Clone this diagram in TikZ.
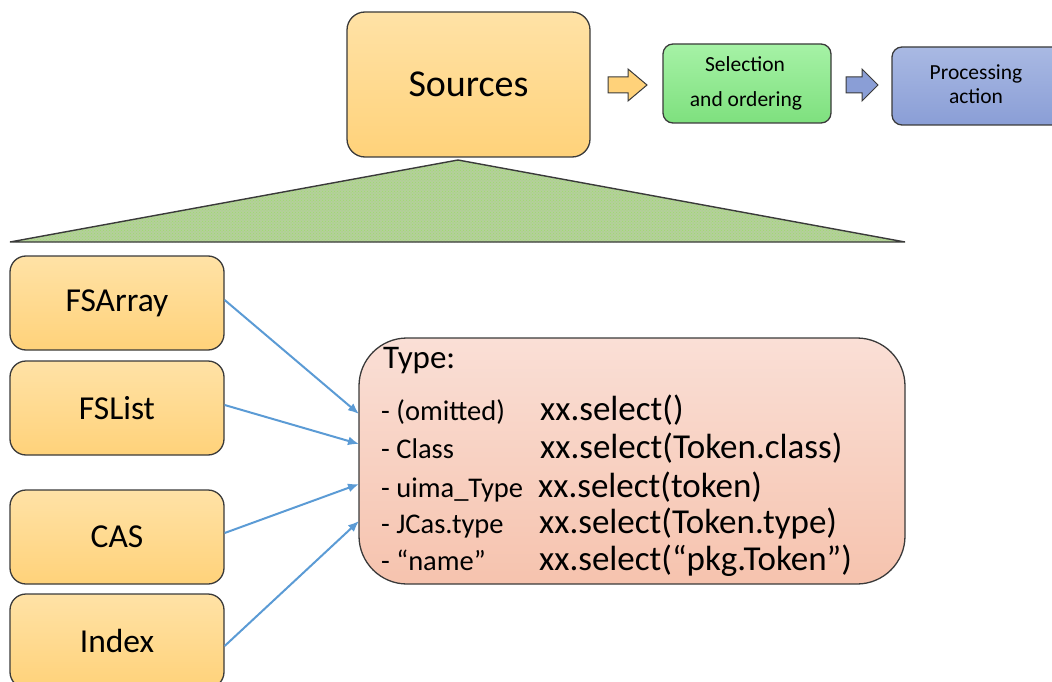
\documentclass[tikz,border=0pt]{standalone}
\usepackage{fontspec}
\setmainfont{Carlito}
\usetikzlibrary{patterns,arrows.meta}
\definecolor{edge}{HTML}{3A3A3A}
\definecolor{orT}{HTML}{FFE2A6}
\definecolor{orB}{HTML}{FFD27A}
\definecolor{grT}{HTML}{A6F2A6}
\definecolor{grB}{HTML}{7EE07E}
\definecolor{blT}{HTML}{A9B9E3}
\definecolor{blB}{HTML}{8A9ED6}
\definecolor{saT}{HTML}{FADFD6}
\definecolor{saB}{HTML}{F6C3AE}
\definecolor{arrowblue}{HTML}{5B9BD5}
\definecolor{trifill}{HTML}{B4CF9C}
\definecolor{tridot}{HTML}{9EDC6A}
\tikzset{
  box/.style={draw=edge, line width=1.3pt, rounded corners=16pt, inner sep=0pt},
  orangebox/.style={box, top color=orT, bottom color=orB},
  greenbox/.style={box, rounded corners=10pt, top color=grT, bottom color=grB},
  bluebox/.style={box, rounded corners=10pt, top color=blT, bottom color=blB},
  typebox/.style={box, rounded corners=48pt, top color=saT, bottom color=saB},
  srcbox/.style={orangebox, minimum width=214pt, minimum height=94pt, font=\fontsize{33.5}{40}\selectfont},
  link/.style={draw=arrowblue, line width=2pt, -{Latex[length=11pt,width=9pt]}},
  blockarrow/.style={draw=edge, line width=1pt},
  lbl/.style={anchor=base west, inner sep=0pt},
  lefttxt/.style={lbl, font=\fontsize{28.5}{34}\selectfont},
  righttxt/.style={lbl, font=\fontsize{35}{40}\selectfont},
}
\begin{document}
\begin{tikzpicture}[x=1pt,y=-1pt]
\useasboundingbox (0,0) rectangle (1052,682);
\clip (0,0) rectangle (1052,682);

% top row
\node[orangebox, minimum width=243pt, minimum height=145pt, rounded corners=18pt,
      font=\fontsize{38}{44}\selectfont] (sources) at (468.5,84.5) {Sources};
\node[greenbox, minimum width=168pt, minimum height=79pt] (sel) at (747,83.5) {};
\node[anchor=base, inner sep=0pt, font=\fontsize{21.5}{26}\selectfont] (selA) at (745,72) {Selection};
\node[anchor=base, inner sep=0pt, font=\fontsize{21.5}{26}\selectfont] (selB) at (746,106.5) {and ordering};
\node[bluebox, minimum width=172pt, minimum height=78pt] (proc) at (978,86) {};
\node[anchor=base, inner sep=0pt, font=\fontsize{21.5}{26}\selectfont] (procA) at (976,80) {Processing};
\node[anchor=base, inner sep=0pt, font=\fontsize{21.5}{26}\selectfont] (procB) at (976,104) {action};

\draw[blockarrow, fill=orB] (608,77) -- (628,77) -- (628,69) -- (647,85) -- (628,101) -- (628,93) -- (608,93) -- cycle;
\draw[blockarrow, fill=blB] (846,77) -- (862,77) -- (862,69) -- (878,85) -- (862,101) -- (862,93) -- (846,93) -- cycle;

% triangle
\fill[trifill] (458,160) -- (905,242) -- (10,242) -- cycle;
\fill[pattern=crosshatch dots, pattern color=tridot] (458,160) -- (905,242) -- (10,242) -- cycle;
\draw[edge, line width=1.4pt, line join=miter] (458,160) -- (905,242) -- (10,242) -- cycle;

% source kinds
\node[srcbox] (fsarray) at (117,303) {FSArray};
\node[srcbox] (fslist) at (117,408) {FSList};
\node[srcbox] (cas) at (117,537) {CAS};
\node[srcbox] (index) at (117,641) {Index};

% type box
\node[typebox, minimum width=546pt, minimum height=246pt] (types) at (632,461) {};
\node[lbl, font=\fontsize{33}{38}\selectfont] (typeT) at (383,368) {Type:};
\node[lefttxt] (l1) at (381,420) {- (omitted)};
\node[lefttxt] (l2) at (381,458) {- Class};
\node[lefttxt] (l3) at (381,497) {- uima\_Type};
\node[lefttxt] (l4) at (381,533) {- JCas.type};
\node[lefttxt] (l5) at (381,570) {- “name”};
\node[righttxt] (r1) at (540,420) {xx.select()};
\node[righttxt] (r2) at (540,458) {xx.select(Token.class)};
\node[righttxt] (r3) at (538,497) {xx.select(token)};
\node[righttxt] (r4) at (539,533) {xx.select(Token.type)};
\node[righttxt] (r5) at (539,570) {xx.select(“pkg.Token”)};

% connectors
\coordinate (e1) at (359,414);
\coordinate (e2) at (359,444);
\coordinate (e3) at (359,484);
\coordinate (e4) at (359,521);
\coordinate (s1) at (224,300);
\coordinate (s2) at (224,405);
\coordinate (s3) at (224,533);
\coordinate (s4) at (224,646);
\draw[link] (fsarray.east |- s1) -- (e1);
\draw[link] (fslist.east |- s2) -- (e2);
\draw[link] (cas.east |- s3) -- (e3);
\draw[link] (index.east |- s4) -- (e4);
\end{tikzpicture}
\end{document}
